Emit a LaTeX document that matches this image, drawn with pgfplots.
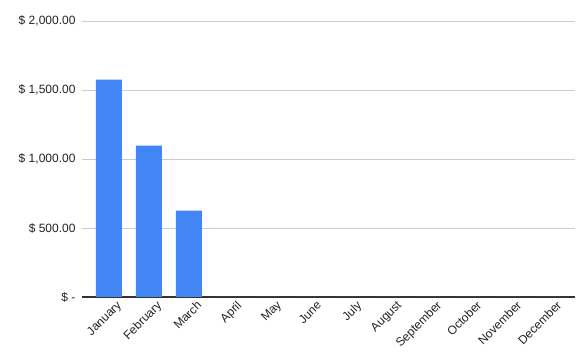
\documentclass[border=0pt]{standalone}
\usepackage{pgfplots}
\pgfplotsset{compat=1.18}
\usepackage{fontspec}
\setmainfont{Liberation Sans}
\definecolor{gblue}{HTML}{4285F4}
\definecolor{gridc}{HTML}{CCCCCC}
\definecolor{txt}{HTML}{222222}
\definecolor{basec}{HTML}{333333}
\begin{document}
\begin{tikzpicture}
\begin{axis}[
  at={(0pt,0pt)}, anchor=south west,
  scale only axis,
  width=493pt, height=276pt,
  xmin=-0.675, xmax=11.65,
  ymin=0, ymax=2000,
  axis x line*=bottom,
  axis y line*=left,
  x axis line style={-, basec, line width=1.2pt},
  y axis line style={draw=none},
  ytick={0,500,1000,1500,2000},
  yticklabels={{\$ -},{\$ 500.00},{\$ 1,000.00},{\$ 1,500.00},{\$ 2,000.00}},
  ymajorgrids,
  grid style={gridc, line width=0.8pt},
  xtick={0,...,11},
  xticklabels={January,February,March,April,May,June,July,August,September,October,November,December},
  major tick length=0pt,
  tick label style={font=\fontsize{12}{14}\selectfont, text=txt},
  xticklabel style={rotate=45, anchor=north east, inner sep=1pt, xshift=4pt, yshift=-6pt},
  yticklabel style={anchor=east, xshift=-3pt},
  /pgf/number format/assume math mode=true,
  clip=false,
]
\addplot[ybar, bar width=0.65, fill=gblue, draw=none] coordinates {
(0,1575) (1,1096) (2,625) (3,0) (4,0) (5,0) (6,0) (7,0) (8,0) (9,0) (10,0) (11,0)
};
\end{axis}
\path (-82pt,-66pt) rectangle (505pt,297pt);
\end{tikzpicture}
\end{document}
